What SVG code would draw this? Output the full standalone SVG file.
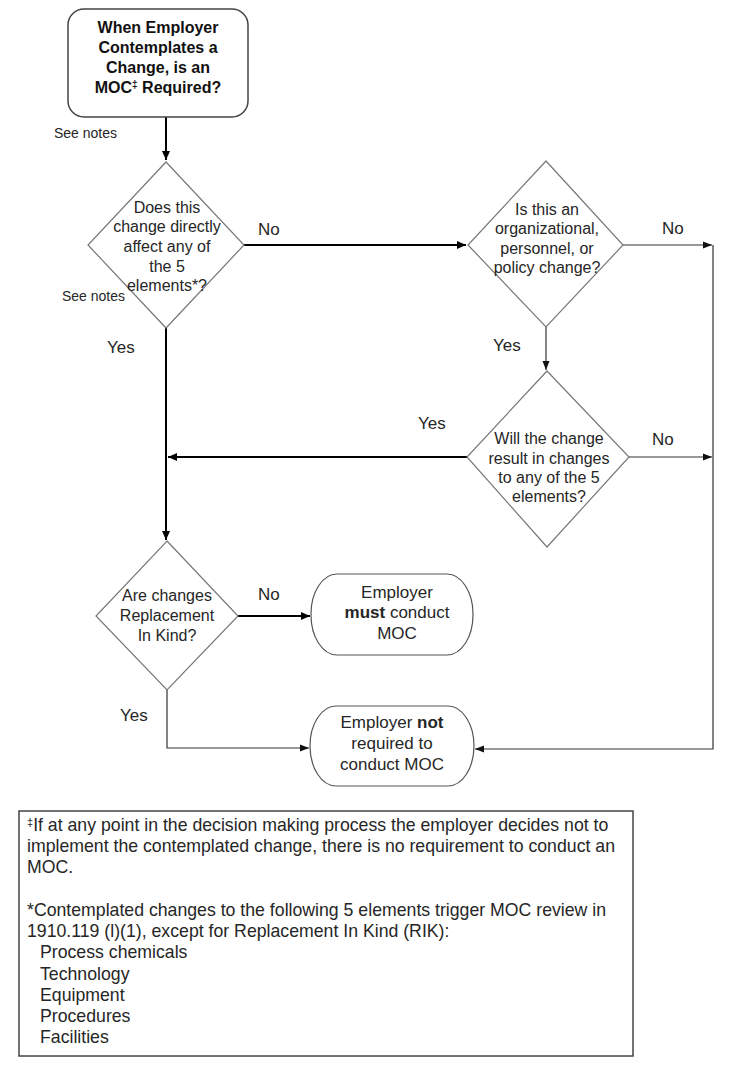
<svg xmlns="http://www.w3.org/2000/svg" width="740" height="1066" viewBox="0 0 740 1066">
<style>
text{font-family:"Liberation Sans",Arial,sans-serif;fill:#262626}
.t{font-size:16px;text-anchor:middle}
.tb{font-size:16px;font-weight:bold;text-anchor:middle;fill:#111}
.n{font-size:17px;text-anchor:middle}
.lbl{font-size:17px}
.sn{font-size:14px}
.note{font-size:17.7px}
.dia{fill:#fff;stroke:#777;stroke-width:1.2}
.term{fill:#fff;stroke:#555;stroke-width:1.2}
.thick{fill:none;stroke:#000;stroke-width:2}
.thin{fill:none;stroke:#333;stroke-width:1.2}
</style>
<defs>
<marker id="ah" markerUnits="userSpaceOnUse" markerWidth="10" markerHeight="10" refX="9" refY="5" orient="auto">
<path d="M0,1 L9,5 L0,9 Z" fill="#000"/>
</marker>
<marker id="ahs" markerUnits="userSpaceOnUse" markerWidth="10" markerHeight="10" refX="9" refY="5" orient="auto">
<path d="M0,1.5 L9,5 L0,8.5 Z" fill="#111"/>
</marker>
</defs>
<rect width="740" height="1066" fill="#fff"/>

<g id="connectors">
<path class="thick" d="M166,117 V160" marker-end="url(#ah)"/>
<path class="thick" d="M244,245 H466" marker-end="url(#ah)"/>
<path class="thin" d="M623,245 H712" marker-end="url(#ahs)"/>
<path class="thin" d="M713,245 V749 H475" marker-end="url(#ahs)"/>
<path class="thin" d="M629,457 H712" marker-end="url(#ahs)"/>
<path class="thin" d="M546,327 V370" marker-end="url(#ahs)"/>
<path class="thick" d="M467,457 H168" marker-end="url(#ah)"/>
<path class="thick" d="M166,328 V540" marker-end="url(#ah)"/>
<path class="thick" d="M238,616 H310" marker-end="url(#ah)"/>
<path class="thin" d="M167,690 V748 H309" marker-end="url(#ahs)"/>
<text class="lbl" x="258" y="235">No</text>
<text class="lbl" x="662" y="234">No</text>
<text class="lbl" x="107" y="353">Yes</text>
<text class="lbl" x="493" y="351">Yes</text>
<text class="lbl" x="418" y="429">Yes</text>
<text class="lbl" x="652" y="445">No</text>
<text class="lbl" x="258" y="600">No</text>
<text class="lbl" x="120" y="721">Yes</text>
<text class="sn" x="54" y="138">See notes</text>
<text class="sn" x="62" y="301">See notes</text>
</g>

<g id="start">
<rect x="68" y="9" width="180" height="108" rx="16" fill="#fff" stroke="#444" stroke-width="1.5"/>
<text class="tb" x="158" y="32.5">When Employer</text>
<text class="tb" x="158" y="52.5">Contemplates a</text>
<text class="tb" x="158" y="72.5">Change, is an</text>
<text class="tb" x="158" y="92.5">MOC<tspan font-size="10" dy="-5">‡</tspan><tspan dy="5"> Required?</tspan></text>
</g>

<g id="d1">
<polygon class="dia" points="166,162 244,245 166,328 88,245"/>
<text class="t" x="167" y="212.5">Does this</text>
<text class="t" x="167" y="232">change directly</text>
<text class="t" x="167" y="252">affect any of</text>
<text class="t" x="167" y="272">the 5</text>
<text class="t" x="167" y="291">elements*?</text>
</g>

<g id="d2">
<polygon class="dia" points="546,161 623,245 546,327 468,245"/>
<text class="t" x="547" y="214.5">Is this an</text>
<text class="t" x="547" y="234">organizational,</text>
<text class="t" x="547" y="253.5">personnel, or</text>
<text class="t" x="547" y="273">policy change?</text>
</g>

<g id="d4">
<polygon class="dia" points="547,371 629,457 547,547 467,457"/>
<text class="t" x="549" y="444">Will the change</text>
<text class="t" x="549" y="464">result in changes</text>
<text class="t" x="549" y="483">to any of the 5</text>
<text class="t" x="549" y="502">elements?</text>
</g>

<g id="d3">
<polygon class="dia" points="167,541 238,616 167,690 96,616"/>
<text class="t" x="167" y="601">Are changes</text>
<text class="t" x="167" y="621">Replacement</text>
<text class="t" x="167" y="641">In Kind?</text>
</g>

<g id="must">
<rect class="term" x="311" y="574" width="162" height="81" rx="26" ry="40"/>
<text class="n" x="397" y="598">Employer</text>
<text class="n" x="397" y="618"><tspan font-weight="bold">must</tspan> conduct</text>
<text class="n" x="397" y="639">MOC</text>
</g>

<g id="notreq">
<rect class="term" x="310" y="706" width="164" height="80" rx="26" ry="40"/>
<text class="n" x="392" y="728">Employer <tspan font-weight="bold">not</tspan></text>
<text class="n" x="392" y="749">required to</text>
<text class="n" x="392" y="770">conduct MOC</text>
</g>

<g id="notes">
<rect x="19" y="811" width="614" height="245" fill="#fff" stroke="#444" stroke-width="1.5"/>
<text class="note" x="27" y="831"><tspan font-size="11" dy="-5">‡</tspan><tspan dy="5">If at any point in the decision making process the employer decides not to</tspan></text>
<text class="note" x="27" y="852">implement the contemplated change, there is no requirement to conduct an</text>
<text class="note" x="27" y="873">MOC.</text>
<text class="note" x="27" y="916">*Contemplated changes to the following 5 elements trigger MOC review in</text>
<text class="note" x="27" y="937">1910.119 (l)(1), except for Replacement In Kind (RIK):</text>
<text class="note" x="40" y="958">Process chemicals</text>
<text class="note" x="40" y="980">Technology</text>
<text class="note" x="40" y="1001">Equipment</text>
<text class="note" x="40" y="1022">Procedures</text>
<text class="note" x="40" y="1043">Facilities</text>
</g>
</svg>
